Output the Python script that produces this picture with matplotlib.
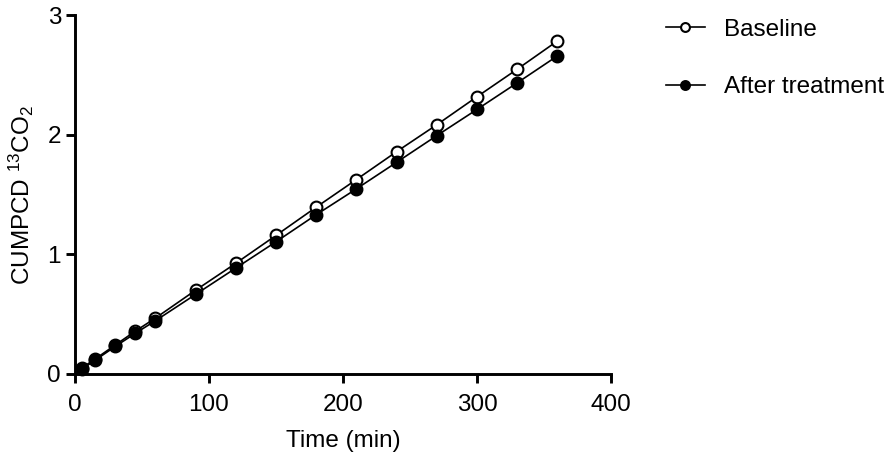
import matplotlib
matplotlib.use("Agg")
import matplotlib.pyplot as plt

plt.rcParams['font.family'] = ['Liberation Sans', 'DejaVu Sans']
plt.rcParams['mathtext.fontset'] = 'custom'
plt.rcParams['mathtext.rm'] = 'Liberation Sans'
plt.rcParams['mathtext.it'] = 'Liberation Sans:italic'
plt.rcParams['mathtext.bf'] = 'Liberation Sans:bold'

time_min = [5, 15, 30, 45, 60, 90, 120, 150, 180, 210, 240, 270, 300, 330, 360]
baseline = [0.05, 0.125, 0.242, 0.358, 0.467, 0.70, 0.925, 1.158, 1.394, 1.625, 1.858, 2.083, 2.317, 2.547, 2.783]
after_treatment = [0.04, 0.115, 0.23, 0.34, 0.445, 0.665, 0.885, 1.105, 1.331, 1.547, 1.769, 1.992, 2.211, 2.433, 2.658]

x_ticks = [0, 100, 200, 300, 400]
y_ticks = [0, 1, 2, 3]

fig = plt.figure(figsize=(8.96, 4.57), dpi=100)
ax = fig.add_axes([75/896, 1-374/457, (611-75)/896, (374-15)/457])

ax.plot(time_min, baseline, '-o', color='black', lw=1.2, ms=8.5,
        mfc='white', mec='black', mew=1.5, label='Baseline', clip_on=False)
ax.plot(time_min, after_treatment, '-o', color='black', lw=1.2, ms=8.5,
        mfc='black', mec='black', mew=1.5, label='After treatment', clip_on=False)

ax.set_xlim(0, 400)
ax.set_ylim(0, 3)
ax.set_xticks(x_ticks)
ax.set_yticks(y_ticks)
for s in ['top', 'right']:
    ax.spines[s].set_visible(False)
for s in ['left', 'bottom']:
    ax.spines[s].set_linewidth(2.1)
ax.tick_params(axis='x', width=2.1, length=6.5, labelsize=17.5, direction='out', pad=8)
ax.tick_params(axis='y', width=2.1, length=6.5, labelsize=17.5, direction='out', pad=3.5)
ax.set_xlabel('Time (min)', fontsize=17.5, labelpad=10)
ax.set_ylabel('CUMPCD $^{13}$CO$_2$', fontsize=17.5, labelpad=8)

leg = ax.legend(loc='upper left', bbox_to_anchor=(644/896, 1+3/457),
                bbox_transform=fig.transFigure, frameon=False, fontsize=17.5,
                handlelength=1.6, handletextpad=0.8, labelspacing=1.45,
                markerscale=0.75)

fig.savefig('out.png', dpi=100)
